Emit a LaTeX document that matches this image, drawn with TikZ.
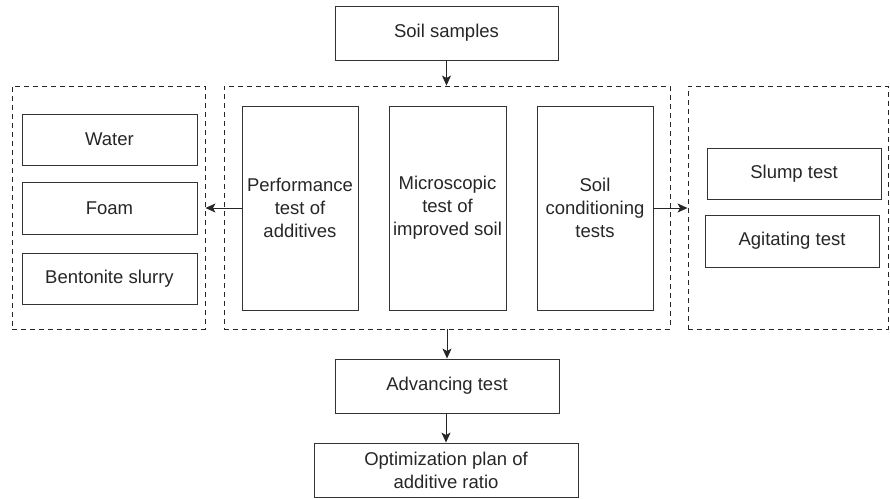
\documentclass[tikz,border=0pt]{standalone}
\usepackage{fontspec}
\setmainfont{Liberation Sans}
\usetikzlibrary{arrows.meta}
\begin{document}
\begin{tikzpicture}[x=1pt,y=-1pt,
  box/.style={draw=black!80, line width=0.9pt, align=center, inner sep=0pt,
    font=\fontsize{18.5}{23}\selectfont, text=black!85},
  group/.style={draw=black!85, line width=0.9pt, dash pattern=on 5pt off 4pt, inner sep=0pt},
  arr/.style={draw=black!85, line width=0.9pt, -{Stealth[length=10pt,width=9pt,inset=2.5pt]}}]
\useasboundingbox (0,0) rectangle (890,498);
% groups
\node[group, minimum width=193pt, minimum height=243pt] (gl) at (108.5,207.5) {};
\node[group, minimum width=446pt, minimum height=243pt] (gm) at (447,207.5) {};
\node[group, minimum width=200pt, minimum height=243pt] (gr) at (788,207.5) {};
% boxes
\node[box, minimum width=223pt, minimum height=54pt] (soil) at (446.5,33) {Soil samples};
\node[box, minimum width=175pt, minimum height=51pt] (water) at (109.5,139.5) {Water};
\node[box, minimum width=175pt, minimum height=52pt] (foam) at (109.5,208) {Foam};
\node[box, minimum width=175pt, minimum height=51pt] (bent) at (109.5,278.5) {Bentonite slurry};
\node[box, minimum width=116pt, minimum height=204pt] (perf) at (300,208) {Performance\\test of\\additives};
\node[box, minimum width=117pt, minimum height=204pt] (micro) at (447.5,208) {Microscopic\\test of\\improved soil};
\node[box, minimum width=116pt, minimum height=204pt] (cond) at (595,208) {Soil\\conditioning\\tests};
\node[box, minimum width=174pt, minimum height=51pt] (slump) at (794,173.5) {Slump test};
\node[box, minimum width=174pt, minimum height=52pt] (agit) at (792,241) {Agitating test};
\node[box, minimum width=224pt, minimum height=54pt] (adv) at (447,386) {Advancing test};
\node[box, minimum width=264pt, minimum height=54pt] (opt) at (446,470) {Optimization plan of\\additive ratio};
% arrows
\draw[arr] (soil.south) -- (soil.south |- gm.north);
\draw[arr] (perf.west) -- (gl.east |- perf.west);
\draw[arr] (cond.east) -- (gr.west |- cond.east);
\draw[arr] (gm.south -| adv.north) -- (adv.north);
\draw[arr] (adv.south -| opt.north) -- (opt.north);
\end{tikzpicture}
\end{document}
